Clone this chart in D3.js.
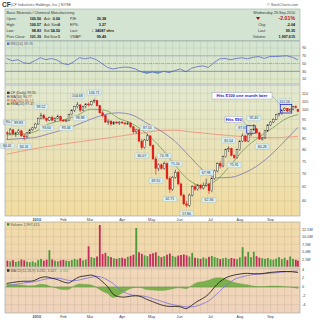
<!DOCTYPE html>
<html>
<head>
<meta charset="utf-8">
<script src="https://cdn.jsdelivr.net/npm/d3@7"></script>
<style>
  body { margin: 0; background: #fff; }
  svg { display: block; font-family: "Liberation Sans", Arial, sans-serif; }
</style>
</head>
<body>
<svg id="chart" width="320" height="320"></svg>
<script>
// ---- data ----
var monthNames = ['2010', 'Feb', 'Mar', 'Apr', 'May', 'Jun', 'Jul', 'Aug', 'Sep'];
var monthStartDays = [22, 41, 60, 83, 104, 124, 146, 167, 189];
var tradingDays = 209;

// one candle per two trading days, Dec 1 2009 .. Sep 29 2010
var opens = [88,87.5,89.5,87.5,88,89,86.5,86,88,89.5,90.5,92.5,95.5,97,95.5,94.5,96,94.5,95.5,96.5,94.5,94,94.5,97.5,100,102,103,100,102,103.5,
  103,105,105.5,102.5,98.5,97,93.5,94,92.5,93.5,93,93.5,93,92.5,93,91,88.5,89.5,84,81,84.5,86.5,82,76,72,73.5,72,74,68,64,
  68.5,70.5,66,62,59,58.5,62,65,64,65.5,64.5,65.5,66,63.5,68,71,74,73,77,80,80.5,77.5,76.5,80,84,86.5,84,87,89.5,90,
  88,85,85.5,89,92,93.5,95,97.5,98,100,101,99.5,100.5,102,100.5];
var highs = [89,90.4,89.8,88.5,89.83,89.5,87.5,88.5,90,91,93,96,98.52,98,96,96.5,97,96,97.5,97,95,95,98,100.5,102.5,104.68,103.5,102.5,104,104.5,
  105.5,106.71,106,103,99.5,97.5,95,94.5,94,94,94,94,93.5,94,93.5,91.5,90,90,85,85,87.54,87,82.5,77,74,74,74.78,74.5,69,69,
  71.54,71,66.5,62.5,60,62.5,65.5,66,66,66,66.5,67.98,66.5,68.5,71.5,74.5,75,77.5,80.5,81.54,81,78,80.5,84.5,87.65,87,87.5,90,92.4,90.5,
  88.5,86,89.5,92.5,94,95.5,98,98.5,100.5,101.56,101.2,101,102.5,102.7,100.57];
var lows = [84.61,87,87,86,87.5,86,84.31,85.5,87.5,89,90,92,95,95,93.6,94,94,93.5,95,94,93.8,93.46,94,97,99,101,98.88,99.5,101,102,
  102.5,104,102,98,96,93,92,91.5,92,92.5,92,92.5,92,92,90.5,87.5,87.5,83.5,80.07,80.5,84,81.5,75.5,69.5,71,71.5,71.5,67.5,62.71,63.5,
  68,65.5,61.5,58.5,57.86,58,61.5,63.5,63.5,64,64,65,62.36,63,67.5,70.5,72,72.5,76.5,79,77,75.91,76,79.5,83.5,83.5,83.5,86.5,89,87.5,
  84.5,84.28,85,88.5,91.5,93,94.5,96.5,97.5,99.5,99,99,100,100.8,98.83];
var closes = [87.5,89.5,87.5,88,89,86.5,86,88,89.5,90.5,92.5,95.5,97,95.5,94.5,96,94.5,95.5,96.5,94.5,94,94.5,97.5,100,102,103,100,102,103.5,103,
  105,105.5,102.5,98.5,97,93.5,94,92.5,93.5,93,93.5,93,92.5,93,91,88.5,89.5,84,81,84.5,86.5,82,76,72,73.5,72,74,68,64,68.5,
  70.5,66,62,59,58.5,62,65,64,65.5,64.5,65.5,66,63.5,68,71,74,73,77,80,80.5,77.5,76.5,80,84,86.5,84,87,89.5,90,88,
  85,85.5,89,92,93.5,95,97.5,98,100,101,99.5,100.5,102,101.39,99.35];
// candles carrying a price tag
var peakCandles = [1, 4, 12, 25, 31, 50, 56, 60, 71, 79, 84, 88, 99];
var troughCandles = [0, 6, 14, 21, 26, 48, 53, 58, 64, 72, 81, 91];

// volume in millions, per candle
var volumes = [2.0,1.8,2.2,1.6,1.9,2.4,2.1,1.7,1.5,1.8,1.4,2.2,2.6,2.0,2.3,5.5,2.4,2.0,1.8,2.1,2.3,2.0,1.9,2.2,2.6,2.3,2.8,2.1,2.4,6.8,
  3.2,2.9,3.4,13.9,4.2,4.6,3.5,3.2,2.8,2.6,2.9,3.0,2.7,3.3,3.6,4.0,12.9,4.8,4.3,3.8,3.5,4.2,4.5,4.8,3.6,3.2,3.5,4.0,4.4,3.6,
  3.3,3.7,3.9,4.1,3.8,3.4,4.6,3.0,2.8,2.6,3.1,2.7,3.3,3.6,3.2,2.9,2.5,2.8,3.0,2.6,2.9,2.7,2.5,3.1,6.5,3.4,4.9,3.2,5.0,3.5,
  3.0,2.8,2.6,2.9,2.4,2.3,2.7,3.2,2.5,3.0,2.2,3.4,2.6,2.3,2.0];

// moving averages, sampled every 10 trading days
var maDays = [0,10,20,30,40,50,60,70,80,90,100,110,120,130,140,150,160,170,180,190,200,208];
var ma50 = [84.7,85.2,85.7,87.5,89.5,92,95,97.5,98.5,97.2,93,89,84,77.5,71.5,68.3,68.5,70.3,73.5,78.5,85,90.77];
var ma200 = [78,79.3,80.5,81.6,82.6,83.5,84.4,85.3,86.3,87.3,88.2,89.2,89.3,88.6,87.9,87.2,86.6,86.1,85.7,85.6,85.9,86.17];
var ema20 = [87,87.3,88.5,92.5,94.5,97,100.5,100,95.5,92.5,87.5,81,73.5,67.5,65.3,67.5,73.5,80.5,85.8,90.5,95.5,97.47];

// RSI(14) and MACD(12,26,9), sampled every 4 trading days
var rsi = [63,57,60,52,50,57,65,60,63,59,50,47,55,65,62,65,60,50,40,36,39,41,40,36,29,25,28,25,30,27,32,36,29,38,42,44,40,52,62,63,
  60,63,65,62,66,68,63,68,68,69,70,66,59.76];
var macd = [0.8,1.0,1.2,1.3,1.3,1.5,2.1,2.3,2.0,1.7,1.2,0.9,1.6,2.3,2.5,2.7,2.3,1.3,0.1,-1.6,-2.2,-2.3,-2.1,-2.0,-2.2,-2.8,-3.3,-3.8,-4.2,-4.4,
  -4.4,-4.5,-4.9,-4.2,-3.3,-2.6,-1.7,-0.2,1.1,2.0,2.5,2.8,3.0,3.1,3.0,3.0,3.1,3.3,3.4,3.5,3.5,3.45,3.282];
var signal = [0.2,0.5,0.7,0.9,1.05,1.2,1.5,1.8,1.95,2.0,1.8,1.5,1.4,1.6,1.9,2.2,2.4,2.2,1.6,0.8,-0.3,-1.2,-1.7,-1.9,-2.0,-2.2,-2.6,-3.0,-3.4,-3.8,
  -4.1,-4.3,-4.5,-4.5,-4.3,-3.8,-3.2,-2.2,-1.0,0.2,1.2,1.9,2.3,2.6,2.8,2.9,3.0,3.1,3.2,3.35,3.45,3.55,3.627];

var priceTicks = [60, 65, 70, 75, 80, 85, 90, 95, 100, 105, 110];
var rsiTicks = [90, 70, 50, 30, 10];
var volTicks = [2.5, 5, 7.5, 10, 12.5];
var macdTicks = [4, 2, 0, -2, -4];

// ---- drawing ----
var svg = d3.select('#chart');
var defs = svg.append('defs');
var L = 5, R = 300;

function gradient(id, c1, c2) {
  var g = defs.append('linearGradient').attr('id', id)
    .attr('x1', 0).attr('y1', 0).attr('x2', 0).attr('y2', 1);
  g.append('stop').attr('offset', '0%').attr('stop-color', c1);
  g.append('stop').attr('offset', '100%').attr('stop-color', c2);
}
gradient('gRsi', '#d4e5d3', '#dfe7c8');
gradient('gPrice', '#e2e9d0', '#f2dca0');
gradient('gVol', '#f2dcaa', '#f0d5b0');
gradient('gMacd', '#f1d8b8', '#efd2bc');

var x = d3.scaleLinear().domain([0, tradingDays]).range([6, 298.6]);
var yPrice = d3.scaleLog().domain([55.1, 115.2]).range([216, 85]);
var yRsi = d3.scaleLinear().domain([0, 100]).range([83, 44.1]);
var yVol = d3.scaleLinear().domain([0, 14.5]).range([266.7, 223.2]);
var yMacd = d3.scaleLinear().domain([-5.9, 4.3]).range([313, 268]);

function cx(k) { return x(Math.min(2 * k + 1, 208.5)); }

function panel(y0, y1, fill, scale, ticks, fmt) {
  var g = svg.append('g');
  g.append('rect').attr('x', L).attr('y', y0).attr('width', R - L).attr('height', y1 - y0)
    .attr('fill', fill);
  var weeks = d3.range(4, tradingDays, 5);
  g.selectAll('line.v').data(weeks).enter().append('line')
    .attr('x1', function(d) { return x(d); }).attr('x2', function(d) { return x(d); })
    .attr('y1', y0).attr('y2', y1)
    .attr('stroke', 'rgba(90,90,50,0.16)').attr('stroke-width', 0.6);
  g.selectAll('line.h').data(ticks).enter().append('line')
    .attr('x1', L).attr('x2', R)
    .attr('y1', function(d) { return scale(d); }).attr('y2', function(d) { return scale(d); })
    .attr('stroke', 'rgba(90,90,50,0.16)').attr('stroke-width', 0.6);
  svg.append('g').selectAll('text').data(ticks).enter().append('text')
    .attr('x', 302).attr('y', function(d) { return scale(d); })
    .attr('dy', '0.35em').attr('font-size', 3.8).attr('fill', '#444')
    .text(fmt);
  return g;
}
function border(y0, y1) {
  svg.append('rect').attr('x', L).attr('y', y0).attr('width', R - L).attr('height', y1 - y0)
    .attr('fill', 'none').attr('stroke', '#9aa0a0').attr('stroke-width', 0.6);
}

// title
svg.append('text').attr('x', 2).attr('y', 6.5).attr('font-size', 6.5).attr('font-weight', 'bold')
  .attr('fill', '#333').text('CF');
svg.append('text').attr('x', 10.5).attr('y', 6).attr('font-size', 3.8).attr('fill', '#555')
  .text('(CF Industries Holdings, Inc.) NYSE');
svg.append('text').attr('x', 298).attr('y', 5.5).attr('font-size', 3.6).attr('fill', '#555')
  .attr('text-anchor', 'end').text('\u00a9 StockCharts.com');

// info box
svg.append('rect').attr('x', L).attr('y', 9).attr('width', R - L).attr('height', 31.5)
  .attr('fill', '#d3e5d2').attr('stroke', '#9ab0a0').attr('stroke-width', 0.6);
var info = svg.append('g').attr('font-size', 3.7).attr('fill', '#333');
info.append('text').attr('x', 6.5).attr('y', 13.8).text('Basic Materials / Chemical Manufacturing');
var infoRows = [
  ['Open:', '100.50', 'Ask:', '0.00', 'P/E:', '30.38'],
  ['High:', '100.57', 'Ask Size:', '0', 'EPS:', '3.27'],
  ['Low:', '98.83', 'Bid:', '54.50', 'Last:', ''],
  ['Prev Close:', '101.39', 'Bid Size:', '1', 'VWAP:', '99.49']
];
var rowY = [20, 26, 32, 38];
infoRows.forEach(function(r, i) {
  info.append('text').attr('x', 6.5).attr('y', rowY[i]).text(r[0]);
  info.append('text').attr('x', 41).attr('y', rowY[i]).attr('text-anchor', 'end')
    .attr('font-weight', 'bold').attr('fill', '#111').text(r[1]);
  info.append('text').attr('x', 44).attr('y', rowY[i]).text(r[2]);
  info.append('text').attr('x', 60).attr('y', rowY[i]).attr('text-anchor', 'end')
    .attr('font-weight', 'bold').attr('fill', '#111').text(r[3]);
  info.append('text').attr('x', 70).attr('y', rowY[i]).text(r[4]);
  if (r[5]) info.append('text').attr('x', 106).attr('y', rowY[i]).attr('text-anchor', 'end')
    .attr('font-weight', 'bold').attr('fill', '#111').text(r[5]);
});
info.append('text').attr('x', 91.5).attr('y', 32.3).attr('font-size', 5).attr('font-weight', 'bold')
  .attr('fill', '#c00').text('\u2193');
info.append('text').attr('x', 95).attr('y', 32).attr('font-weight', 'bold').attr('fill', '#111')
  .text('34087 shrs');
info.append('text').attr('x', 295).attr('y', 13.8).attr('text-anchor', 'end').text('Wednesday  29-Sep-2010');
info.append('path').attr('d', 'M256,17 L260,17 L258,20 Z').attr('fill', '#b00');
info.append('text').attr('x', 295).attr('y', 20.3).attr('text-anchor', 'end').attr('font-size', 5.2)
  .attr('font-weight', 'bold').attr('fill', '#c0103a').text('-2.01%');
var rightRows = [['Chg:', '-2.04', 26], ['Last:', '99.35', 32], ['Volume:', '1,997,615', 38]];
rightRows.forEach(function(r) {
  info.append('text').attr('x', 257).attr('y', r[2]).attr('text-anchor', 'end').text(r[0])
    .attr('x', r[0] === 'Volume:' ? 266 : 266);
  info.append('text').attr('x', 295).attr('y', r[2]).attr('text-anchor', 'end')
    .attr('font-weight', 'bold').attr('fill', '#111').text(r[1]);
});

// RSI panel
panel(41, 84, 'url(#gRsi)', yRsi, rsiTicks, function(d) { return d; });
var rsiDays = rsi.map(function(d, i) { return Math.min(i * 4, 208) + 0.5; });
var rsiPts = rsi.map(function(v, i) { return [x(rsiDays[i]), yRsi(v)]; });
svg.append('line').attr('x1', L).attr('x2', R).attr('y1', yRsi(70)).attr('y2', yRsi(70))
  .attr('stroke', '#a9b3c9').attr('stroke-width', 1.1);
svg.append('line').attr('x1', L).attr('x2', R).attr('y1', yRsi(50)).attr('y2', yRsi(50))
  .attr('stroke', '#8a92c4').attr('stroke-width', 0.6).attr('stroke-dasharray', '3,1,1,1');
svg.append('line').attr('x1', L).attr('x2', R).attr('y1', yRsi(30)).attr('y2', yRsi(30))
  .attr('stroke', '#7a86c0').attr('stroke-width', 0.8);
svg.append('path').datum(rsi)
  .attr('d', d3.area().x(function(d, i) { return x(rsiDays[i]); })
    .y0(yRsi(30)).y1(function(d) { return yRsi(Math.min(d, 30)); }))
  .attr('fill', '#4a9aa0').attr('opacity', 0.8);
svg.append('path').datum(rsiPts).attr('d', d3.line())
  .attr('fill', 'none').attr('stroke', '#4a5cc0').attr('stroke-width', 0.7);
border(41, 84);
svg.append('rect').attr('x', 7).attr('y', 42.5).attr('width', 2.4).attr('height', 2.4).attr('fill', '#4a6cc8');
svg.append('text').attr('x', 10.5).attr('y', 45).attr('font-size', 3.6).attr('fill', '#557')
  .text('RSI(14) 59.76');

// price panel
panel(85, 216, 'url(#gPrice)', yPrice, priceTicks, function(d) { return d; });
var maLine = function(vals) {
  return d3.line().curve(d3.curveMonotoneX)
    .x(function(d, i) { return x(maDays[i] + 0.5); })
    .y(function(d) { return yPrice(d); })(vals);
};
svg.append('path').attr('d', maLine(ma200)).attr('fill', 'none').attr('stroke', '#f08a78').attr('stroke-width', 0.8);
svg.append('path').attr('d', maLine(ma50)).attr('fill', 'none').attr('stroke', '#7a74b0').attr('stroke-width', 0.8);
svg.append('path').attr('d', maLine(ema20)).attr('fill', 'none').attr('stroke', '#6e9a52').attr('stroke-width', 0.8);

var candles = svg.append('g');
closes.forEach(function(c, k) {
  var o = opens[k], up = c >= o;
  var col = up ? '#222' : '#e01818';
  candles.append('line').attr('x1', cx(k)).attr('x2', cx(k))
    .attr('y1', yPrice(highs[k])).attr('y2', yPrice(lows[k]))
    .attr('stroke', col).attr('stroke-width', 0.6);
  var top = yPrice(Math.max(o, c)), bot = yPrice(Math.min(o, c));
  candles.append('rect').attr('x', cx(k) - 0.9).attr('width', 1.8)
    .attr('y', top).attr('height', Math.max(bot - top, 0.6))
    .attr('fill', up ? '#f4f0e0' : col).attr('stroke', col).attr('stroke-width', 0.4);
});

function priceTag(k, v, above) {
  var y = yPrice(v) + (above ? -6 : 6);
  var g = svg.append('g');
  g.append('rect').attr('x', cx(k) - 7).attr('y', y - 2.6).attr('width', 14).attr('height', 5.2)
    .attr('rx', 1).attr('fill', '#dcf0f2').attr('stroke', '#9cb8c0').attr('stroke-width', 0.4);
  g.append('text').attr('x', cx(k)).attr('y', y).attr('dy', '0.35em').attr('text-anchor', 'middle')
    .attr('font-size', 3.5).attr('fill', '#334').text(v.toFixed(2));
}
peakCandles.forEach(function(k) { priceTag(k, highs[k], true); });
troughCandles.forEach(function(k) { priceTag(k, lows[k], false); });

// callouts
function callout(bx, by, bw, text, k0, k1, pLow, pHigh) {
  var rx0 = cx(k0) - 1.5, rx1 = cx(k1) + 1.5;
  var ry0 = yPrice(pHigh), ry1 = yPrice(pLow);
  svg.append('line').attr('x1', bx + bw).attr('y1', by + 3.2).attr('x2', rx0).attr('y2', ry0)
    .attr('stroke', '#8890a8').attr('stroke-width', 0.5);
  svg.append('rect').attr('x', bx).attr('y', by).attr('width', bw).attr('height', 6.4)
    .attr('fill', '#fff').attr('stroke', '#9aa0b8').attr('stroke-width', 0.5);
  svg.append('text').attr('x', bx + bw / 2).attr('y', by + 3.2).attr('dy', '0.36em')
    .attr('text-anchor', 'middle').attr('font-size', 4.2).attr('font-weight', 'bold')
    .attr('fill', '#1a1ad0').text(text);
  svg.append('rect').attr('x', rx0).attr('y', ry0).attr('width', rx1 - rx0).attr('height', ry1 - ry0)
    .attr('fill', 'none').attr('stroke', '#2a2ad8').attr('stroke-width', 0.8);
}
callout(225, 116.3, 17.5, 'Hits $90', 86, 88, 87.8, 91.6);
callout(212, 92.6, 60, 'Hits $100 one month later', 98, 101, 98.4, 103.2);

border(85, 216);
var legend = [['#333', 'CF (Daily) 99.35'], ['#7a74b0', 'MA(50) 90.77'], ['#f08a78', 'MA(200) 86.17'], ['#6e9a52', 'EMA(20) 97.47']];
legend.forEach(function(d, i) {
  var y = 93 + i * 3.7;
  svg.append('rect').attr('x', 7).attr('y', y - 1.3).attr('width', 2.6).attr('height', 2.2).attr('fill', d[0]);
  svg.append('text').attr('x', 10.5).attr('y', y).attr('dy', '0.35em').attr('font-size', 3.5)
    .attr('fill', i === 2 ? '#d05040' : '#444').text(d[1]);
});

// month labels
function monthAxis(y) {
  svg.append('g').selectAll('text').data(monthStartDays).enter().append('text')
    .attr('x', function(d) { return x(d); }).attr('y', y)
    .attr('text-anchor', 'middle').attr('font-size', 3.8).attr('fill', '#444')
    .attr('font-weight', function(d, i) { return i === 0 ? 'bold' : 'normal'; })
    .text(function(d, i) { return monthNames[i]; });
}
monthAxis(220.6);
monthAxis(318);

// volume panel
panel(222, 267, 'url(#gVol)', yVol, volTicks, function(d) { return d.toFixed(1) + 'M'; });
svg.append('g').selectAll('rect').data(volumes).enter().append('rect')
  .attr('x', function(d, k) { return cx(k) - 0.9; }).attr('width', 1.8)
  .attr('y', function(d) { return yVol(d); })
  .attr('height', function(d) { return yVol(0) - yVol(d); })
  .attr('fill', function(d, k) { return closes[k] >= opens[k] ? '#4a9a3a' : '#c42a5c'; });
border(222, 267);
svg.append('rect').attr('x', 7).attr('y', 223.2).attr('width', 2.4).attr('height', 2.4).attr('fill', '#3a8a3a');
svg.append('text').attr('x', 10.5).attr('y', 225.8).attr('font-size', 3.6).attr('fill', '#555')
  .text('Volume 1,997,615');

// MACD panel
panel(268, 313, 'url(#gMacd)', yMacd, macdTicks, function(d) { return d; });
var macdX = function(d, i) { return x(Math.min(i * 4, 208) + 0.5); };
svg.append('path').datum(macd)
  .attr('d', d3.area().curve(d3.curveMonotoneX).x(macdX)
    .y0(yMacd(0)).y1(function(d, i) { return yMacd(d - signal[i]); }))
  .attr('fill', '#7cb04c').attr('stroke', '#5a9a3a').attr('stroke-width', 0.3);
svg.append('line').attr('x1', L).attr('x2', R).attr('y1', yMacd(0)).attr('y2', yMacd(0))
  .attr('stroke', '#7a9a5a').attr('stroke-width', 0.4);
svg.append('path').datum(signal)
  .attr('d', d3.line().curve(d3.curveMonotoneX).x(macdX).y(function(d) { return yMacd(d); }))
  .attr('fill', 'none').attr('stroke', '#8070e0').attr('stroke-width', 0.8);
svg.append('path').datum(macd)
  .attr('d', d3.line().curve(d3.curveMonotoneX).x(macdX).y(function(d) { return yMacd(d); }))
  .attr('fill', 'none').attr('stroke', '#111').attr('stroke-width', 0.8);
border(268, 313);
svg.append('rect').attr('x', 7).attr('y', 269.3).attr('width', 2.4).attr('height', 2.4).attr('fill', '#222');
var mt = svg.append('text').attr('x', 10.5).attr('y', 271.9).attr('font-size', 3.6).attr('fill', '#555');
mt.append('tspan').text('MACD(12,26,9) 3.282, 3.627, ');
mt.append('tspan').attr('fill', '#7cb04c').text('-0.345');
</script>
</body>
</html>
